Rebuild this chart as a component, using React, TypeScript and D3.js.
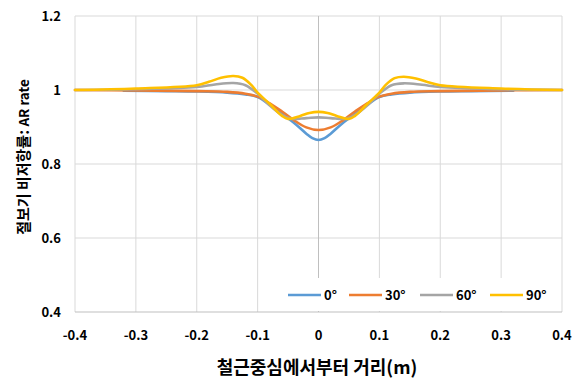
import React from "react";
import * as d3 from "d3";

const xTicks = [-0.4, -0.3, -0.2, -0.1, 0, 0.1, 0.2, 0.3, 0.4];
const xTickLabels = ["-0.4", "-0.3", "-0.2", "-0.1", "0", "0.1", "0.2", "0.3", "0.4"];
const yTicks = [0.4, 0.6, 0.8, 1, 1.2];
const yTickLabels = ["0.4", "0.6", "0.8", "1", "1.2"];

const seriesNames = ["0°", "30°", "60°", "90°"];
const seriesColors = ["#5B9BD5", "#ED7D31", "#A5A5A5", "#FFC000"];

const xs0 = [-0.32, -0.25, -0.2, -0.15, -0.12, -0.1, -0.08, -0.06, -0.04, -0.02, -0.01, 0, 0.01, 0.02, 0.04, 0.06, 0.08, 0.1, 0.12, 0.15, 0.2, 0.25, 0.32];
const ys0 = [0.998, 0.997, 0.996, 0.993, 0.988, 0.981, 0.96, 0.935, 0.911, 0.882, 0.870, 0.865, 0.870, 0.882, 0.911, 0.935, 0.96, 0.981, 0.988, 0.993, 0.996, 0.997, 0.998];

const xs30 = [-0.4, -0.3, -0.2, -0.15, -0.12, -0.1, -0.08, -0.06, -0.04, -0.02, 0, 0.02, 0.04, 0.06, 0.08, 0.1, 0.12, 0.15, 0.2, 0.3, 0.4];
const ys30 = [1.0, 0.999, 0.997, 0.995, 0.99, 0.982, 0.964, 0.942, 0.918, 0.899, 0.892, 0.899, 0.918, 0.942, 0.964, 0.982, 0.99, 0.995, 0.997, 0.999, 1.0];

const xs60 = [-0.4, -0.3, -0.2, -0.17, -0.14, -0.12, -0.1, -0.08, -0.06, -0.045, -0.02, 0, 0.02, 0.045, 0.06, 0.08, 0.1, 0.12, 0.14, 0.17, 0.2, 0.3, 0.4];
const ys60 = [1.0, 1.002, 1.008, 1.015, 1.019, 1.013, 0.99, 0.958, 0.932, 0.922, 0.924, 0.926, 0.924, 0.922, 0.932, 0.958, 0.99, 1.013, 1.018, 1.014, 1.008, 1.002, 1.0];

const xs90 = [-0.4, -0.3, -0.2, -0.18, -0.16, -0.14, -0.125, -0.11, -0.1, -0.08, -0.06, -0.05, -0.03, -0.015, 0, 0.015, 0.03, 0.05, 0.06, 0.08, 0.1, 0.11, 0.125, 0.14, 0.16, 0.18, 0.2, 0.3, 0.4];
const ys90 = [1.0, 1.004, 1.013, 1.022, 1.033, 1.038, 1.033, 1.013, 0.993, 0.962, 0.93, 0.922, 0.93, 0.938, 0.941, 0.938, 0.93, 0.922, 0.93, 0.962, 0.993, 1.013, 1.032, 1.036, 1.031, 1.021, 1.013, 1.004, 1.0];

const seriesX = [xs0, xs30, xs60, xs90];
const seriesY = [ys0, ys30, ys60, ys90];

export default function App() {
  const W = 575, H = 383;
  const left = 75, right = 562, top = 16, bottom = 312;
  const x = d3.scaleLinear().domain([-0.4, 0.4]).range([left, right]);
  const y = d3.scaleLinear().domain([0.4, 1.2]).range([bottom, top]);
  const line = d3
    .line<[number, number]>()
    .x((d) => x(d[0]))
    .y((d) => y(d[1]))
    .curve(d3.curveCatmullRom.alpha(0.5));
  const font = "'Noto Sans CJK KR', 'Noto Sans', sans-serif";
  const legendX = [288, 349, 420, 490];
  const legendY = 295;

  return (
    <svg width={W} height={H} style={{ position: "absolute", left: 0, top: 0, background: "#fff" }} fontFamily={font}>
      <rect x={0} y={0} width={W} height={H} fill="#fff" />
      {yTicks.filter((t) => t !== 0.4).map((t) => (
        <line key={"gy" + t} x1={left} x2={right} y1={y(t)} y2={y(t)} stroke="#D9D9D9" strokeWidth={1} />
      ))}
      {xTicks.filter((t) => t !== 0).map((t) => (
        <line key={"gx" + t} x1={x(t)} x2={x(t)} y1={top} y2={bottom} stroke="#D9D9D9" strokeWidth={1} />
      ))}
      <line x1={x(0)} x2={x(0)} y1={top} y2={bottom} stroke="#BFBFBF" strokeWidth={1} />
      <line x1={left} x2={right} y1={bottom} y2={bottom} stroke="#BFBFBF" strokeWidth={1} />
      <rect x={259} y={278} width={302} height={33} fill="#fff" />
      {seriesX.map((xs, i) => (
        <path
          key={"s" + i}
          d={line(xs.map((v, j) => [v, seriesY[i][j]] as [number, number])) || ""}
          fill="none"
          stroke={seriesColors[i]}
          strokeWidth={2.6}
          strokeLinejoin="round"
          strokeLinecap="round"
        />
      ))}
      {seriesNames.map((n, i) => (
        <g key={"l" + i}>
          <line x1={legendX[i]} x2={legendX[i] + 33} y1={legendY} y2={legendY} stroke={seriesColors[i]} strokeWidth={2.6} />
          <text x={legendX[i] + 36} y={legendY} dy="0.35em" fontSize={13} fontWeight={700} fill="#000">{n}</text>
        </g>
      ))}
      {yTicks.map((t, i) => (
        <text key={"yt" + t} x={61} y={y(t)} dy="0.35em" textAnchor="end" fontSize={13} fontWeight={700} fill="#000">{yTickLabels[i]}</text>
      ))}
      {xTicks.map((t, i) => (
        <text key={"xt" + t} x={x(t)} y={335} dy="0.35em" textAnchor="middle" fontSize={13} fontWeight={700} fill="#000">{xTickLabels[i]}</text>
      ))}
      <text x={317} y={368} dy="0.35em" textAnchor="middle" fontSize={18} fontWeight={700} fill="#000">철근중심에서부터 거리(m)</text>
      <text transform={`translate(23,157) rotate(-90)`} dy="0.35em" textAnchor="middle" fontWeight={700} fill="#000">
        <tspan fontSize={15}>절보기 비저항률: </tspan>
        <tspan fontSize={13.5}>AR rate</tspan>
      </text>
    </svg>
  );
}
